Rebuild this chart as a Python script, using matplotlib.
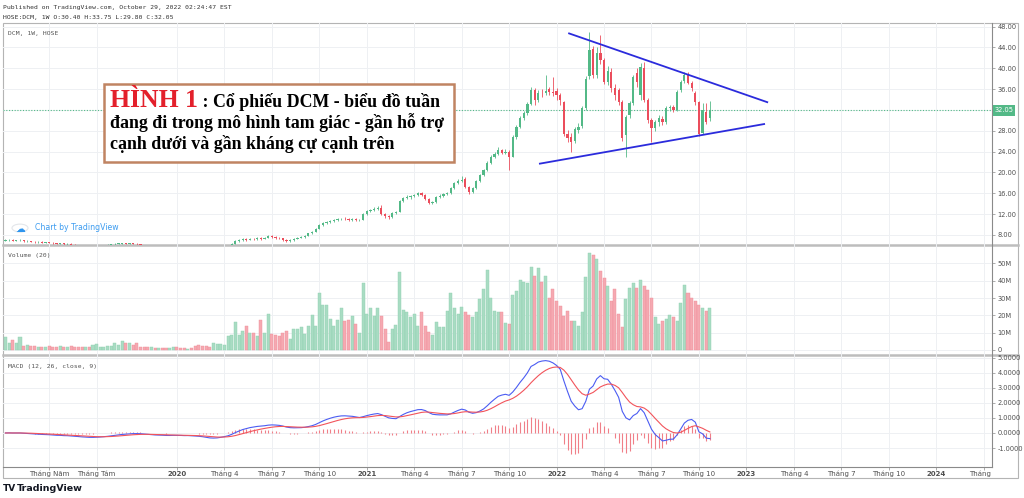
import numpy as np
import pandas as pd
import matplotlib
matplotlib.use("Agg")
import matplotlib.pyplot as plt
import matplotlib.dates as mdates
from matplotlib.patches import Rectangle
from matplotlib.lines import Line2D
from matplotlib.transforms import Bbox, TransformedBbox, blended_transform_factory

# ---------------- data: weekly DCM bars ----------------
first_week = "2019-02-11"

opens = [
    # 2019 (feb - jun)
    6.9, 7.0, 7.1, 6.9, 7.0, 7.0, 6.8, 6.8, 6.7, 6.6, 6.7, 6.5, 6.6, 6.5, 6.4, 6.3, 6.4, 6.2, 6.3, 6.1,
    6.0, 5.9, 5.8, 5.8, 5.7, 5.8, 5.9, 5.9, 6.0,
    6.1, 6.2, 6.3, 6.3, 6.4, 6.3, 6.4, 6.3, 6.2,
    6.1, 5.9, 5.8, 5.8, 5.7, 5.8, 5.7, 5.6, 5.7, 5.8, 5.7, 5.6, 5.5, 5.6, 5.4, 5.3, 5.2, 5.0, 4.7, 4.6,
    4.8, 5.0, 5.3, 5.5,
    # 2020 rebound
    5.8, 6.3, 6.8, 7.0, 7.2, 7.1, 7.3, 7.2, 7.4, 7.3, 7.5, 7.8, 7.7, 7.5, 7.4, 7.1, 6.8, 7.0, 7.3, 7.5,
    7.6, 7.9, 8.3, 8.6, 9.2, 9.9, 10.3, 10.5, 10.7, 10.9, 11.0, 11.1, 11.0, 10.9, 11.0, 10.8,
    # 2021 uptrend
    10.9, 12.1, 12.6, 12.8, 13.0, 13.2, 12.1, 11.6, 11.5, 12.2, 12.5, 14.6, 15.1, 15.3, 15.4, 15.6, 16.0,
    15.7, 15.0, 14.2, 14.3, 15.2, 15.5, 15.8, 16.0, 17.0, 18.0, 18.4, 18.7, 17.3, 16.2, 17.0, 18.4, 19.5,
    20.4, 21.9, 23.0, 23.6, 24.4, 23.8, 24.0, 23.0, 26.8, 28.8,
    # late 2021 - 2022 triangle
    30.5, 31.4, 33.2, 35.8, 33.9, 35.3, 35.2, 36.0, 35.5, 35.6, 34.8, 33.5, 27.4, 26.8, 26.0, 28.2, 28.9,
    32.3, 38.5, 43.8, 38.7, 43.0, 41.6, 37.4, 39.3, 36.3, 35.8, 33.5, 27.2, 31.0, 33.3, 39.1, 34.8, 40.0,
    33.9, 30.0, 28.5, 29.6, 30.2, 29.6, 32.3, 32.6, 32.0, 35.8, 37.6, 38.7, 37.2, 35.2, 33.5, 27.6, 31.6,
    30.4,
]
highs = [
    7.2, 7.3, 7.2, 7.1, 7.2, 7.1, 7.0, 6.9, 6.8, 6.8, 6.8, 6.7, 6.7, 6.6, 6.5, 6.5, 6.5, 6.4, 6.4, 6.2,
    6.1, 6.0, 5.9, 5.9, 5.9, 6.0, 6.0, 6.1, 6.2,
    6.3, 6.4, 6.5, 6.5, 6.5, 6.5, 6.5, 6.4, 6.3,
    6.1, 6.0, 5.9, 5.9, 5.9, 5.9, 5.8, 5.8, 5.9, 5.9, 5.8, 5.7, 5.7, 5.7, 5.5, 5.4, 5.3, 5.1, 4.8, 4.9,
    5.1, 5.4, 5.6, 5.8,
    6.5, 7.0, 7.2, 7.4, 7.4, 7.5, 7.5, 7.6, 7.6, 7.7, 8.0, 8.0, 7.9, 7.7, 7.5, 7.2, 7.2, 7.4, 7.6, 7.8,
    8.0, 8.4, 8.7, 9.4, 10.1, 10.5, 10.7, 10.9, 11.1, 11.3, 11.3, 11.4, 11.3, 11.2, 11.2, 11.1,
    12.3, 12.8, 13.0, 13.3, 13.6, 13.8, 12.3, 11.9, 12.4, 12.7, 14.8, 15.3, 15.6, 15.7, 15.9, 16.3, 16.2,
    15.8, 15.1, 14.6, 15.4, 15.8, 16.0, 16.3, 17.2, 18.2, 18.8, 19.3, 19.1, 17.5, 17.2, 18.6, 19.8, 20.7,
    22.2, 23.3, 24.0, 24.8, 24.6, 24.5, 24.3, 27.2, 29.2, 30.9,
    31.8, 33.6, 36.5, 36.2, 35.8, 36.0, 38.7, 36.5, 38.3, 36.2, 35.2, 33.8, 28.2, 27.5, 28.8, 29.5, 32.8,
    38.5, 47.0, 44.2, 44.0, 46.4, 42.0, 40.5, 40.0, 37.0, 36.2, 34.0, 31.0, 33.8, 38.8, 40.0, 41.0, 41.2,
    34.3, 30.5, 30.0, 31.0, 30.8, 32.8, 33.0, 33.0, 35.8, 37.8, 39.3, 39.2, 37.6, 35.6, 33.8, 33.4, 33.3,
    33.75,
]
lows = [
    6.8, 6.9, 6.8, 6.8, 6.9, 6.7, 6.7, 6.6, 6.5, 6.5, 6.4, 6.4, 6.4, 6.3, 6.2, 6.2, 6.1, 6.1, 6.0, 5.9,
    5.8, 5.7, 5.7, 5.6, 5.6, 5.7, 5.8, 5.8, 5.9,
    6.0, 6.1, 6.2, 6.2, 6.2, 6.2, 6.2, 6.1, 6.0,
    5.8, 5.7, 5.6, 5.6, 5.6, 5.6, 5.5, 5.5, 5.6, 5.6, 5.5, 5.4, 5.4, 5.3, 5.2, 5.1, 4.9, 4.5, 4.4, 4.5,
    4.7, 4.9, 5.2, 5.4,
    5.7, 6.2, 6.7, 6.9, 6.9, 7.0, 7.0, 7.1, 7.1, 7.2, 7.4, 7.5, 7.3, 7.2, 6.9, 6.6, 6.7, 6.9, 7.2, 7.4,
    7.5, 7.8, 8.2, 8.5, 9.1, 9.8, 10.1, 10.3, 10.5, 10.7, 10.8, 10.8, 10.7, 10.7, 10.6, 10.6,
    10.8, 11.9, 12.4, 12.6, 12.8, 11.9, 11.2, 11.0, 11.3, 12.0, 12.4, 14.4, 14.9, 15.0, 15.2, 15.4, 15.5,
    14.8, 14.0, 13.9, 14.1, 15.1, 15.3, 15.6, 15.9, 16.8, 17.8, 18.1, 17.1, 15.9, 16.0, 16.8, 18.2, 19.3,
    20.2, 21.6, 22.7, 23.3, 23.5, 23.5, 20.4, 22.9, 26.5, 28.5,
    30.0, 31.0, 33.0, 33.0, 33.5, 34.5, 34.8, 34.8, 34.6, 34.0, 33.0, 27.0, 25.8, 23.9, 25.6, 27.5, 28.5,
    32.0, 38.0, 38.2, 38.2, 40.8, 37.0, 36.8, 35.5, 34.0, 33.0, 26.0, 23.0, 30.5, 33.0, 36.5, 34.0, 33.5,
    29.5, 25.8, 28.0, 29.0, 29.2, 29.3, 31.8, 31.6, 31.8, 35.5, 37.2, 37.0, 35.6, 33.0, 27.0, 27.3, 29.4,
    29.8,
]
closes = [
    7.0, 7.1, 6.9, 7.0, 7.0, 6.8, 6.8, 6.7, 6.6, 6.7, 6.5, 6.6, 6.5, 6.4, 6.3, 6.4, 6.2, 6.3, 6.1, 6.0,
    5.9, 5.8, 5.8, 5.7, 5.8, 5.9, 5.9, 6.0, 6.1,
    6.2, 6.3, 6.3, 6.4, 6.3, 6.4, 6.3, 6.2, 6.1,
    5.9, 5.8, 5.8, 5.7, 5.8, 5.7, 5.6, 5.7, 5.8, 5.7, 5.6, 5.5, 5.6, 5.4, 5.3, 5.2, 5.0, 4.7, 4.6, 4.8,
    5.0, 5.3, 5.5, 5.7,
    6.3, 6.8, 7.0, 7.2, 7.1, 7.3, 7.2, 7.4, 7.3, 7.5, 7.8, 7.7, 7.5, 7.4, 7.1, 6.8, 7.0, 7.3, 7.5, 7.6,
    7.9, 8.3, 8.6, 9.2, 9.9, 10.3, 10.5, 10.7, 10.9, 11.0, 11.1, 11.0, 10.9, 11.0, 10.8, 10.9,
    12.1, 12.6, 12.8, 13.0, 13.1, 12.1, 11.6, 11.5, 12.2, 12.5, 14.6, 15.1, 15.3, 15.4, 15.6, 16.0, 15.7,
    15.0, 14.2, 14.3, 15.2, 15.5, 15.8, 16.0, 17.0, 18.0, 18.4, 18.6, 17.3, 16.2, 17.0, 18.4, 19.5, 20.4,
    21.9, 23.0, 23.6, 24.3, 23.8, 24.0, 23.0, 26.8, 28.8, 30.5,
    31.4, 33.2, 35.8, 33.9, 35.3, 35.2, 35.6, 35.5, 35.2, 34.8, 33.9, 27.4, 26.6, 25.8, 28.4, 28.8, 32.3,
    38.0, 43.5, 38.7, 43.0, 41.6, 37.4, 39.5, 36.2, 34.8, 33.5, 26.6, 30.6, 33.3, 38.3, 37.4, 40.3, 33.9,
    30.0, 28.5, 29.6, 30.4, 29.6, 32.3, 32.6, 32.0, 35.4, 37.4, 38.7, 37.2, 36.2, 33.5, 27.3, 32.0, 29.7,
    32.05,
]
# volume, millions of shares
volumes = [
    7.5, 3.8, 5.7, 4.0, 7.5, 2.5, 3.0, 2.2, 2.5, 1.8, 2.0, 1.6, 2.2, 2.0, 1.8, 2.4, 2.0, 1.5, 2.2, 1.8,
    1.6, 2.0, 1.5, 1.8, 2.6, 3.4, 2.0, 1.8, 2.4,
    2.2, 4.2, 3.0, 5.3, 4.0, 4.3, 2.8, 3.8, 2.0,
    1.8, 1.5, 1.6, 1.2, 1.4, 1.0, 1.2, 1.0, 1.6, 2.0, 1.4, 1.0, 0.8, 1.2, 2.5, 2.6, 2.2, 2.5, 2.0, 4.3,
    3.5, 3.2, 3.0, 8.0,
    8.5, 16.4, 8.9, 11, 13.8, 10, 10, 8, 17.5, 10, 21, 9, 8.5, 8, 10, 11, 6.6, 12, 12, 13,
    9, 14, 20, 14, 33, 26, 26, 18, 13.6, 17.5, 24, 17, 17.5, 19.4, 15, 10,
    38.7, 20.8, 24, 19.4, 24.5, 19.8, 11.9, 4.7, 12, 14.7, 45, 23, 21.7, 18.9, 21, 14, 21.7,
    14, 10.4, 8.5, 16, 13, 13, 22.6, 33, 24.5, 20.8, 24.9, 22, 20, 19, 21.7, 29.6, 35,
    46, 30, 22.6, 22, 22, 15.5, 15, 32, 34, 40.6,
    39, 38.7, 48, 42.8, 47.5, 39, 42.8, 30, 35, 28, 25.5, 19.8, 22.6, 17, 17, 13.8, 22,
    42, 56, 55, 52.8, 45.7, 41.5, 37, 28, 35, 20.8, 13, 29.6, 35.8, 38.7, 35.5, 40.6, 37,
    34.5, 30, 18.9, 15, 17, 18, 20, 19, 17, 27, 37.7, 33, 30, 28, 26, 24, 22.6,
    24.5,
]

tick_dates = ["2019-05-06", "2019-08-05", "2020-01-06", "2020-04-06", "2020-07-06", "2020-10-05",
              "2021-01-04", "2021-04-05", "2021-07-05", "2021-10-04", "2022-01-03", "2022-04-04",
              "2022-07-04", "2022-10-03", "2023-01-02", "2023-04-03", "2023-07-03", "2023-10-02",
              "2024-01-01", "2024-04-01"]
tick_labels = ["Tháng Năm", "Tháng Tám", "2020", "Tháng 4", "Tháng 7", "Tháng 10",
               "2021", "Tháng 4", "Tháng 7", "Tháng 10", "2022", "Tháng 4",
               "Tháng 7", "Tháng 10", "2023", "Tháng 4", "Tháng 7", "Tháng 10",
               "2024", "Tháng 4"]

# triangle drawn by the author
upper_line_dates = ["2022-01-27", "2023-02-11"]
upper_line_prices = [46.7, 33.5]
lower_line_dates = ["2021-12-02", "2023-02-05"]
lower_line_prices = [21.7, 29.3]

last_price = 32.05

# ---------------- styling ----------------
UP, DN = "#53b987", "#eb4d5c"
VUP, VDN = "#a9dcc3", "#f5a9b1"
GRID = "#eef0f3"
AXC = "#8a8a8a"
TXT = "#4f4f4f"

W, H = 1024, 498
def fx(px):
    return px / W
def fy(py):
    return 1 - py / H

fig = plt.figure(figsize=(10.24, 4.98), dpi=100)
fig.patch.set_facecolor("white")

L, R = 3, 992
ax_p = fig.add_axes([fx(L), fy(245), fx(R) - fx(L), fy(23) - fy(245)])
ax_v = fig.add_axes([fx(L), fy(355), fx(R) - fx(L), fy(245) - fy(355)], sharex=ax_p)
ax_m = fig.add_axes([fx(L), fy(467), fx(R) - fx(L), fy(355) - fy(467)], sharex=ax_p)

dates = pd.date_range(first_week, periods=len(closes), freq="7D")
x = mdates.date2num(dates)
o, h, l, c = (np.array(v, dtype=float) for v in (opens, highs, lows, closes))
up = c >= o

# candles
ccol = np.where(up, UP, DN)
ax_p.vlines(x, np.minimum(l, np.minimum(o, c)), np.maximum(h, np.maximum(o, c)),
            colors=ccol, lw=0.6, zorder=3)
ax_p.bar(x, np.maximum(np.abs(c - o), 0.08), bottom=np.minimum(o, c), width=4.3,
         color=ccol, lw=0, zorder=4)
ax_p.axhline(last_price, color=UP, lw=0.8, ls=(0, (1, 1.5)), zorder=2)

for dl, pl in ((upper_line_dates, upper_line_prices), (lower_line_dates, lower_line_prices)):
    ax_p.plot(mdates.date2num(pd.to_datetime(dl)), pl, color="#2b2bdc", lw=1.3, zorder=5)

price_ticks = np.arange(8, 49, 4)
ax_p.set_ylim(6.08, 48.7)
ax_p.set_yticks(price_ticks)
# the 32.00 label sits under the last-price tag
ax_p.set_yticklabels(["" if v == 32 else f"{v:.2f}" for v in price_ticks])

# volume
vcol = np.where(up, VUP, VDN)
vedge = np.where(up, "#8fd0b0", "#f08e99")
ax_v.bar(x, volumes, width=5.8, color=vcol, edgecolor=vedge, lw=0.3, zorder=3)
ax_v.set_ylim(-2.9, 60.6)
ax_v.set_yticks(np.arange(0, 51, 10))
ax_v.set_yticklabels(["0"] + [f"{v}M" for v in range(10, 51, 10)])

# MACD (12, 26, close, 9)
cs = pd.Series(c)
macd = cs.ewm(span=12, adjust=False).mean() - cs.ewm(span=26, adjust=False).mean()
signal = macd.ewm(span=9, adjust=False).mean()
hist = macd - signal
ax_m.vlines(x, 0, hist, colors="#f07f88", lw=0.8, zorder=3)
ax_m.plot(x, macd, color="#4b5cf2", lw=0.8, zorder=4)
ax_m.plot(x, signal, color="#f2545b", lw=0.8, zorder=4)
ax_m.set_ylim(-2.26, 5.18)
ax_m.set_yticks(np.arange(-1, 6, 1))
ax_m.set_yticklabels([f"{v:.4f}" for v in np.arange(-1, 6, 1)])

# shared x
x_left = x[0] - 4.6
x_right = x[-1] + 541
ax_p.set_xlim(x_left, x_right)
tick_x = mdates.date2num(pd.to_datetime(tick_dates))
ax_p.set_xticks(tick_x)

for ax in (ax_p, ax_v, ax_m):
    ax.set_facecolor("none")
    for s in ax.spines.values():
        s.set_visible(False)
    ax.grid(True, color=GRID, lw=0.7, zorder=0)
    ax.set_axisbelow(True)
    ax.yaxis.tick_right()
    ax.tick_params(axis="y", which="both", length=2.5, width=0.5, color=AXC,
                   labelsize=4.8, labelcolor=TXT, pad=1.5)
    ax.tick_params(axis="x", labelbottom=False, length=0)
ax_m.tick_params(axis="x", length=2.5, width=0.5, color=AXC, direction="out")

# time axis labels, clipped at the price scale
trans = blended_transform_factory(ax_m.transData, fig.transFigure)
clip = TransformedBbox(Bbox([[fx(L), 0], [fx(R), 1]]), fig.transFigure)
for tx, lab in zip(tick_x, tick_labels):
    t = ax_m.text(tx, fy(473.5), lab, transform=trans, ha="center", va="center",
                  fontsize=5, color=TXT, fontweight="bold" if lab.isdigit() else "normal")
    t.set_clip_on(True)
    t.set_clip_box(clip)

# frame and pane separators (drawn under the axes so scale labels stay on top)
def hline(y, x0, x1, color, lw):
    fig.add_artist(Line2D([fx(x0), fx(x1)], [fy(y), fy(y)], color=color, lw=lw,
                          transform=fig.transFigure, zorder=-1))
def vline(xp, y0, y1, color, lw):
    fig.add_artist(Line2D([fx(xp), fx(xp)], [fy(y0), fy(y1)], color=color, lw=lw,
                          transform=fig.transFigure, zorder=-1))

fig.add_artist(Rectangle((fx(L), fy(478)), fx(1018) - fx(L), fy(23) - fy(478),
                         transform=fig.transFigure, fill=False, ec="#b4b4b4", lw=0.8, zorder=-1))
hline(245, L, 1018, "#bdbdbd", 1.8)
hline(355, L, 1018, "#bdbdbd", 1.8)
vline(R, 23, 467, AXC, 0.8)
hline(467, L, R, AXC, 0.8)

# last price tag
fig.add_artist(Rectangle((fx(993), fy(116)), fx(1015) - fx(993), fy(105.5) - fy(116),
                         transform=fig.transFigure, fc=UP, ec="none"))
y_tag = ax_p.transData.transform((0, last_price))[1]
fig.text(fx(1004), y_tag / fig.bbox.height, f"{last_price:.2f}", color="white",
         fontsize=4.8, ha="center", va="center")

# header texts
mono = "DejaVu Sans Mono"
fig.text(fx(3), fy(7), "Published on TradingView.com, October 29, 2022 02:24:47 EST",
         family=mono, fontsize=4.6, color="#333333", va="center")
fig.text(fx(3), fy(17), "HOSE:DCM, 1W O:30.40 H:33.75 L:29.80 C:32.05",
         family=mono, fontsize=4.6, color="#333333", va="center")
fig.text(fx(8), fy(34), "DCM, 1W, HOSE", family=mono, fontsize=4.6, color="#555555", va="center")
fig.text(fx(8), fy(255), "Volume (20)", family=mono, fontsize=4.6, color="#555555", va="center")
fig.text(fx(8), fy(366), "MACD (12, 26, close, 9)", family=mono, fontsize=4.6,
         color="#555555", va="center")

# watermark
fig.add_artist(plt.Circle((fx(20), fy(228)), 8 / W, transform=fig.transFigure,
                          fc="white", ec="#e3e6ea", lw=0.8))
fig.text(fx(20), fy(228.5), "☁", fontsize=7, color="#2f95ee", ha="center", va="center")
fig.text(fx(35), fy(228), "Chart by TradingView", fontsize=5.6, color="#3d9cf0", va="center")

# bottom logo
fig.text(fx(3), fy(488), "TV", fontsize=6.5, fontweight="bold", color="#131722", va="center")
fig.text(fx(17), fy(488), "TradingView", fontsize=6.8, fontweight="bold", color="#131722",
         va="center")

# annotation box
fig.add_artist(Rectangle((fx(104), fy(162)), fx(454) - fx(104), fy(84) - fy(162),
                         transform=fig.transFigure, fc="white", ec="#c08462", lw=1.8))
serif = ["Liberation Serif", "DejaVu Serif"]
renderer = fig.canvas.get_renderer()
t_red = fig.text(fx(110), fy(107), "HÌNH 1", family=serif, fontweight="bold", fontsize=17,
                 color="#e3202b", va="baseline")
w_red = t_red.get_window_extent(renderer).width
t_red.set_fontsize(17 * 88 / w_red)
t2 = fig.text(fx(110), fy(128.5), "đang đi trong mô hình tam giác - gần hỗ trợ", family=serif,
              fontweight="bold", fontsize=12, color="black", va="baseline")
fs = 12 * 333 / t2.get_window_extent(renderer).width
t2.set_fontsize(fs)
x_end = t_red.get_window_extent(renderer).x1
fig.text(x_end / fig.bbox.width, fy(107), " : Cổ phiếu DCM - biểu đồ tuần", family=serif,
         fontweight="bold", fontsize=fs, color="black", va="baseline")
fig.text(fx(110), fy(149), "cạnh dưới và gần kháng cự cạnh trên", family=serif,
         fontweight="bold", fontsize=fs, color="black", va="baseline")

fig.savefig("out.png", dpi=100, facecolor="white")
